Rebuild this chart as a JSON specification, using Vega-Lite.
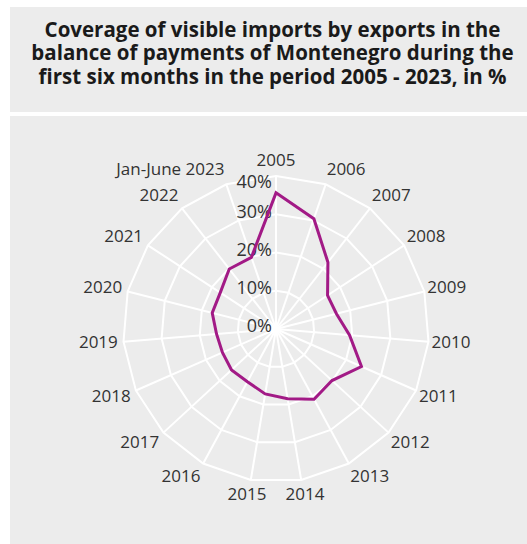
{
  "$schema": "https://vega.github.io/schema/vega-lite/v6.json",
  "background": "white",
  "padding": {"left": 10, "top": 7, "right": 0, "bottom": 0},
  "spacing": 4,
  "config": {"view": {"fill": "#ececec", "stroke": null}},
  "vconcat": [
    {
      "width": 517,
      "height": 105,
      "view": {"fill": "#ececec", "stroke": null},
      "data": {"values": [{"k": 1}]},
      "layer": [
        {
          "mark": {"type": "rect", "color": "#ececec"},
          "encoding": {}
        },
        {
          "mark": {"type": "text", "font": "Open Sans", "fontWeight": "bold", "fontSize": 20.5, "lineHeight": 23.5, "color": "#1a1a1a", "align": "center", "baseline": "middle", "dx": 4, "dy": -29},
          "encoding": {
            "text": {"value": ["Coverage of visible imports by exports in the", "balance of payments of Montenegro during the", "first six months in the period 2005 - 2023, in %"]}
          }
        }
      ]
    },
    {
      "width": 517,
      "height": 428,
      "data": {"values": [
        {"year": "2005", "value": 35.6},
        {"year": "2006", "value": 30.5},
        {"year": "2007", "value": 22.1},
        {"year": "2008", "value": 16.1},
        {"year": "2009", "value": 16.3},
        {"year": "2010", "value": 19.3},
        {"year": "2011", "value": 24.4},
        {"year": "2012", "value": 19.9},
        {"year": "2013", "value": 20.9},
        {"year": "2014", "value": 18.5},
        {"year": "2015", "value": 17.2},
        {"year": "2016", "value": 15.7},
        {"year": "2017", "value": 15.8},
        {"year": "2018", "value": 15.3},
        {"year": "2019", "value": 15.6},
        {"year": "2020", "value": 17.2},
        {"year": "2021", "value": 17.4},
        {"year": "2022", "value": 19.9},
        {"year": "Jan-June 2023", "value": 19.8}
      ]},
      "transform": [
        {"window": [{"op": "row_number", "as": "idx"}]},
        {"calculate": "(datum.idx - 1) * 2 * PI / 19", "as": "a"},
        {"calculate": "0", "as": "z"}
      ],
      "layer": [
        {
          "transform": [
            {"calculate": "[10, 20, 30, 40]", "as": "ring"},
            {"flatten": ["ring"]},
            {"calculate": "datum.ring * sin(datum.a)", "as": "rx"},
            {"calculate": "datum.ring * cos(datum.a)", "as": "ry"}
          ],
          "mark": {"type": "line", "interpolate": "linear-closed", "color": "white", "strokeWidth": 2},
          "encoding": {
            "x": {"field": "rx", "type": "quantitative", "scale": {"domain": [-69.54, 65.62], "nice": false, "zero": false}, "axis": null},
            "y": {"field": "ry", "type": "quantitative", "scale": {"domain": [-56.21, 55.69], "nice": false, "zero": false}, "axis": null},
            "detail": {"field": "ring", "type": "nominal"},
            "order": {"field": "idx", "type": "quantitative"}
          }
        },
        {
          "transform": [
            {"calculate": "40 * sin(datum.a)", "as": "sx"},
            {"calculate": "40 * cos(datum.a)", "as": "sy"}
          ],
          "mark": {"type": "rule", "color": "white", "strokeWidth": 2},
          "encoding": {
            "x": {"field": "z", "type": "quantitative", "scale": {"domain": [-69.54, 65.62], "nice": false, "zero": false}, "axis": null},
            "y": {"field": "z", "type": "quantitative", "scale": {"domain": [-56.21, 55.69], "nice": false, "zero": false}, "axis": null},
            "x2": {"field": "sx"},
            "y2": {"field": "sy"}
          }
        },
        {
          "transform": [
            {"calculate": "[0, 10, 20, 30, 40]", "as": "tick"},
            {"flatten": ["tick"]},
            {"filter": "datum.idx == 1"},
            {"calculate": "datum.tick == 40 ? 38.3 : datum.tick + 0.4", "as": "ty"},
            {"calculate": "datum.tick + '%'", "as": "lab"}
          ],
          "mark": {"type": "text", "font": "Open Sans", "fontSize": 18, "color": "#333333", "align": "right", "baseline": "middle", "dx": -4},
          "encoding": {
            "x": {"field": "z", "type": "quantitative", "scale": {"domain": [-69.54, 65.62], "nice": false, "zero": false}, "axis": null},
            "y": {"field": "ty", "type": "quantitative", "scale": {"domain": [-56.21, 55.69], "nice": false, "zero": false}, "axis": null},
            "text": {"field": "lab"}
          }
        },
        {
          "transform": [
            {"calculate": "datum.value * sin(datum.a)", "as": "px"},
            {"calculate": "datum.value * cos(datum.a)", "as": "py"}
          ],
          "mark": {"type": "line", "interpolate": "linear-closed", "color": "#a21a86", "strokeWidth": 3},
          "encoding": {
            "x": {"field": "px", "type": "quantitative", "scale": {"domain": [-69.54, 65.62], "nice": false, "zero": false}, "axis": null},
            "y": {"field": "py", "type": "quantitative", "scale": {"domain": [-56.21, 55.69], "nice": false, "zero": false}, "axis": null},
            "order": {"field": "idx", "type": "quantitative"}
          }
        },
        {
          "transform": [
            {"filter": "sin(datum.a) > 0.2"},
            {"calculate": "40.8 * sin(datum.a)", "as": "lx"},
            {"calculate": "44 * cos(datum.a)", "as": "ly"}
          ],
          "mark": {"type": "text", "font": "Open Sans", "fontSize": 17, "color": "#333333", "align": "left", "baseline": "middle"},
          "encoding": {
            "x": {"field": "lx", "type": "quantitative", "scale": {"domain": [-69.54, 65.62], "nice": false, "zero": false}, "axis": null},
            "y": {"field": "ly", "type": "quantitative", "scale": {"domain": [-56.21, 55.69], "nice": false, "zero": false}, "axis": null},
            "text": {"field": "year"}
          }
        },
        {
          "transform": [
            {"filter": "sin(datum.a) < -0.2"},
            {"calculate": "41.5 * sin(datum.a)", "as": "lx"},
            {"calculate": "44 * cos(datum.a)", "as": "ly"}
          ],
          "mark": {"type": "text", "font": "Open Sans", "fontSize": 17, "color": "#333333", "align": "right", "baseline": "middle"},
          "encoding": {
            "x": {"field": "lx", "type": "quantitative", "scale": {"domain": [-69.54, 65.62], "nice": false, "zero": false}, "axis": null},
            "y": {"field": "ly", "type": "quantitative", "scale": {"domain": [-56.21, 55.69], "nice": false, "zero": false}, "axis": null},
            "text": {"field": "year"}
          }
        },
        {
          "transform": [
            {"filter": "abs(sin(datum.a)) <= 0.2"},
            {"calculate": "46 * sin(datum.a)", "as": "lx"},
            {"calculate": "44 * cos(datum.a)", "as": "ly"}
          ],
          "mark": {"type": "text", "font": "Open Sans", "fontSize": 17, "color": "#333333", "align": "center", "baseline": "middle"},
          "encoding": {
            "x": {"field": "lx", "type": "quantitative", "scale": {"domain": [-69.54, 65.62], "nice": false, "zero": false}, "axis": null},
            "y": {"field": "ly", "type": "quantitative", "scale": {"domain": [-56.21, 55.69], "nice": false, "zero": false}, "axis": null},
            "text": {"field": "year"}
          }
        }
      ]
    }
  ]
}
